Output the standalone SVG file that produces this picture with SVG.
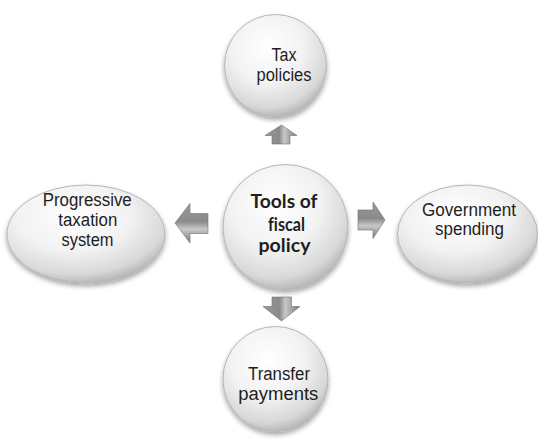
<svg xmlns="http://www.w3.org/2000/svg" width="538" height="439" viewBox="0 0 538 439">
<defs>
<radialGradient id="ball" cx="0.42" cy="0.32" r="0.72">
<stop offset="0" stop-color="#ffffff"/>
<stop offset="0.5" stop-color="#f2f2f2"/>
<stop offset="0.82" stop-color="#d8d8d8"/>
<stop offset="1" stop-color="#acacac"/>
</radialGradient>
<linearGradient id="arrowV" x1="0" y1="0" x2="1" y2="0">
<stop offset="0" stop-color="#9a9a9a"/>
<stop offset="0.45" stop-color="#8a8a8a"/>
<stop offset="0.6" stop-color="#c8c8c8"/>
<stop offset="1" stop-color="#7a7a7a"/>
</linearGradient>
<linearGradient id="arrowH" x1="0" y1="0" x2="0" y2="1">
<stop offset="0" stop-color="#9a9a9a"/>
<stop offset="0.45" stop-color="#8a8a8a"/>
<stop offset="0.65" stop-color="#c8c8c8"/>
<stop offset="1" stop-color="#7a7a7a"/>
</linearGradient>
<filter id="shadow" x="-20%" y="-20%" width="140%" height="150%">
<feGaussianBlur in="SourceAlpha" stdDeviation="2.5"/>
<feOffset dx="0" dy="3" result="b"/>
<feComponentTransfer><feFuncA type="linear" slope="0.35"/></feComponentTransfer>
<feMerge><feMergeNode/><feMergeNode in="SourceGraphic"/></feMerge>
</filter>
</defs>
<style>
.node{fill:url(#ball);stroke:#b5b5b5;stroke-width:1;filter:url(#shadow)}
.lbl{font-family:"Liberation Sans",Arial,sans-serif;font-size:18px;fill:#1e1e1e;text-anchor:middle}
.bold{font-family:Lato,"Open Sans",sans-serif;font-weight:bold;font-size:18px;fill:#1e1e1e;text-anchor:middle;font-variant-ligatures:none}
.av{fill:url(#arrowV);stroke:#6e6e6e;stroke-width:0.6}
.ah{fill:url(#arrowH);stroke:#6e6e6e;stroke-width:0.6}
</style>
<g id="connectors">
<polygon class="av" points="281.5,125 297,135.5 290,135.5 290,144 272,144 272,135.5 265,135.5"/>
<polygon class="ah" points="175,223 190,203.5 190,213.5 208,213.5 208,233.5 190,233.5 190,243"/>
<polygon class="ah" points="385,220 373,202 373,210 358,210 358,230 373,230 373,238.5"/>
<polygon class="av" points="281.5,321 300,306.5 291.5,306.5 291.5,297 272,297 272,306.5 263,306.5"/>
</g>
<g id="tax">
<circle class="node" cx="275.5" cy="65.5" r="51"/>
<text class="lbl" x="284" y="60.5" textLength="25" lengthAdjust="spacingAndGlyphs">Tax</text>
<text class="lbl" x="284" y="80.5" textLength="55" lengthAdjust="spacingAndGlyphs">policies</text>
</g>
<g id="tools">
<circle class="node" cx="285.5" cy="227" r="62.5"/>
<text class="bold" x="284" y="208" textLength="67" lengthAdjust="spacingAndGlyphs">Tools of</text>
<text class="bold" x="286.5" y="230.5" textLength="37" lengthAdjust="spacingAndGlyphs">fiscal</text>
<text class="bold" x="284.5" y="252" textLength="52" lengthAdjust="spacingAndGlyphs">policy</text>
</g>
<g id="progressive">
<ellipse class="node" cx="86" cy="234" rx="79" ry="49"/>
<text class="lbl" x="87.2" y="205.5" textLength="89" lengthAdjust="spacingAndGlyphs">Progressive</text>
<text class="lbl" x="87.8" y="226" textLength="59" lengthAdjust="spacingAndGlyphs">taxation</text>
<text class="lbl" x="87.5" y="245.5" textLength="52" lengthAdjust="spacingAndGlyphs">system</text>
</g>
<g id="government">
<ellipse class="node" cx="467.5" cy="234" rx="70" ry="49"/>
<text class="lbl" x="469" y="215.5" textLength="94" lengthAdjust="spacingAndGlyphs">Government</text>
<text class="lbl" x="469.5" y="234.5" textLength="69" lengthAdjust="spacingAndGlyphs">spending</text>
</g>
<g id="transfer">
<circle class="node" cx="275.5" cy="379" r="52.5"/>
<text class="lbl" x="279" y="380" textLength="62" lengthAdjust="spacingAndGlyphs">Transfer</text>
<text class="lbl" x="278.3" y="399.5" textLength="80" lengthAdjust="spacingAndGlyphs">payments</text>
</g>
</svg>
